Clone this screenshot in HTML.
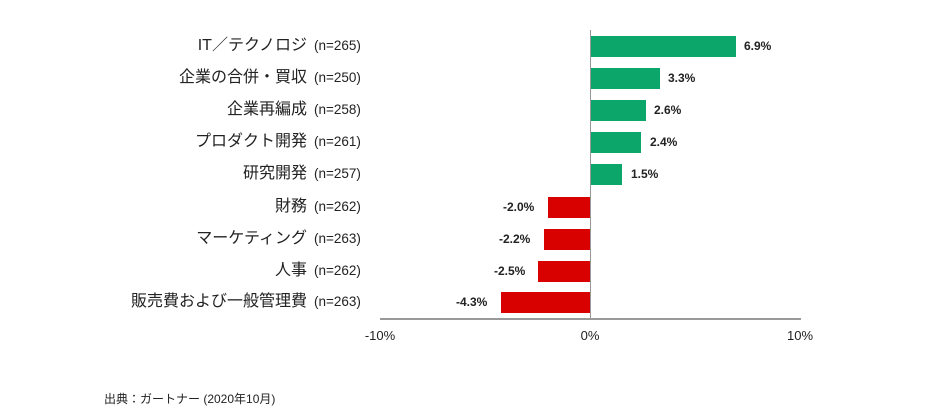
<!DOCTYPE html>
<html><head><meta charset="utf-8"><style>
body{margin:0;width:934px;height:411px;background:#fff;position:relative;overflow:hidden;font-family:"Liberation Sans","Noto Sans CJK JP",sans-serif;color:#222}
.c{position:absolute;right:627px;font-size:16px;line-height:20px;white-space:nowrap}
.n{position:absolute;left:314px;font-size:13.5px;line-height:20px}
.b{position:absolute;height:21px}
.v{position:absolute;font-size:12px;font-weight:bold;line-height:20px}
.t{position:absolute;top:328px;font-size:13px;width:60px;text-align:center}
</style></head><body>
<div style="position:absolute;left:590px;top:30px;width:1px;height:289px;background:#999"></div>
<div style="position:absolute;left:380px;top:318px;width:421px;height:2px;background:#999"></div>
<div class="t" style="left:350px">-10%</div>
<div class="t" style="left:560px">0%</div>
<div class="t" style="left:770px">10%</div>
<div style="position:absolute;left:104px;top:390px;font-size:12px">出典：ガートナー (2020年10月)</div>

<div class="c" style="top:36px">IT／テクノロジ</div><div class="n" style="top:36px">(n=265)</div>
<div class="b" style="left:591px;top:36px;width:145px;background:#0ca66a"></div><div class="v" style="left:744px;top:36px">6.9%</div>

<div class="c" style="top:68px">企業の合併・買収</div><div class="n" style="top:68px">(n=250)</div>
<div class="b" style="left:591px;top:68px;width:69px;background:#0ca66a"></div><div class="v" style="left:668px;top:68px">3.3%</div>

<div class="c" style="top:100px">企業再編成</div><div class="n" style="top:100px">(n=258)</div>
<div class="b" style="left:591px;top:100px;width:55px;background:#0ca66a"></div><div class="v" style="left:654px;top:100px">2.6%</div>

<div class="c" style="top:132px">プロダクト開発</div><div class="n" style="top:132px">(n=261)</div>
<div class="b" style="left:591px;top:132px;width:50px;background:#0ca66a"></div><div class="v" style="left:650px;top:132px">2.4%</div>

<div class="c" style="top:164px">研究開発</div><div class="n" style="top:164px">(n=257)</div>
<div class="b" style="left:591px;top:164px;width:31px;background:#0ca66a"></div><div class="v" style="left:631px;top:164px">1.5%</div>

<div class="c" style="top:197px">財務</div><div class="n" style="top:197px">(n=262)</div>
<div class="b" style="left:548px;top:197px;width:42px;background:#d90000"></div><div class="v" style="left:503px;top:197px">-2.0%</div>

<div class="c" style="top:229px">マーケティング</div><div class="n" style="top:229px">(n=263)</div>
<div class="b" style="left:544px;top:229px;width:46px;background:#d90000"></div><div class="v" style="left:499px;top:229px">-2.2%</div>

<div class="c" style="top:261px">人事</div><div class="n" style="top:261px">(n=262)</div>
<div class="b" style="left:538px;top:261px;width:52px;background:#d90000"></div><div class="v" style="left:494px;top:261px">-2.5%</div>

<div class="c" style="top:292px">販売費および一般管理費</div><div class="n" style="top:292px">(n=263)</div>
<div class="b" style="left:501px;top:292px;width:89px;background:#d90000"></div><div class="v" style="left:456px;top:292px">-4.3%</div>
</body></html>
